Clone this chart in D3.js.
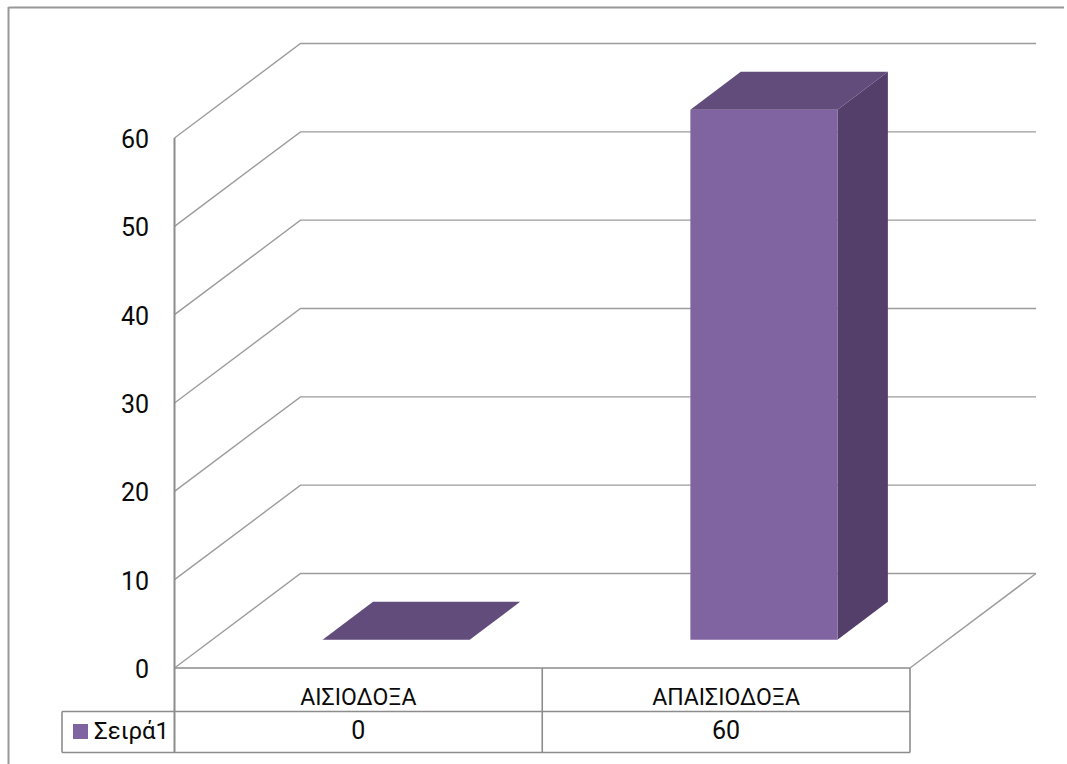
<!DOCTYPE html>
<html>
<head>
<meta charset="utf-8">
<script src="https://cdn.jsdelivr.net/npm/d3@7"></script>
<style>
html,body{margin:0;padding:0;background:#fff;}
svg{display:block;}
text{font-family:Roboto,"Noto Sans",sans-serif;fill:#0a0a0a;}
</style>
</head>
<body>
<svg id="chart" width="1067" height="764"></svg>
<script>
const categories = ["ΑΙΣΙΟΔΟΞΑ", "ΑΠΑΙΣΙΟΔΟΞΑ"];
const seriesName = "Σειρά1";
const seriesValues = [0, 60];
const axisTicks = [0, 10, 20, 30, 40, 50, 60];

const svg = d3.select("#chart");

// Front plane of the 3D plot box, and the offset of its back plane.
const x = d3.scaleBand().domain(categories).range([174.5, 910]);
const y = d3.scaleLinear().domain([0, 60]).range([668, 138]);
const depthX = 126, depthY = -94.5;

// Project a point of the plot box: u across, v up, t into the depth (0 to 1).
const project = (u, v, t) => [u + depthX * t, y(v) + depthY * t];
const path = pts => d3.line()(pts) + "Z";

const gridColor = "#9c9c9c", tableColor = "#8c8c8c";

const line = (x1, y1, x2, y2, color, width) => svg.append("line")
  .attr("x1", x1).attr("y1", y1).attr("x2", x2).attr("y2", y2)
  .attr("stroke", color).attr("stroke-width", width);

// Chart area frame: only the top and left edges are drawn.
line(8.5, 7.5, 1064, 7.5, "#989898", 2);
line(8.5, 7, 8.5, 764, "#989898", 2);

// Gridlines run along the side wall and then along the back wall.
const x0 = x.range()[0], x1 = x.range()[1];
svg.append("g").selectAll("path").data(axisTicks).join("path")
  .attr("d", v => d3.line()([[x0, y(v)], project(x0, v, 1), project(x1, v, 1)]))
  .attr("fill", "none").attr("stroke", gridColor).attr("stroke-width", 1.4);

// Floor edges on the right and along the front.
const floorBackRight = project(x1, 0, 1);
line(floorBackRight[0], floorBackRight[1], x1, y(0), gridColor, 1.4);
line(x0, y(0), x1, y(0), "#a8a8a8", 2);

// Bars, each one a front, top and right face.
const barFront = 0.30, barBack = 0.70, barPad = 0.3;
const bars = svg.append("g").selectAll("g").data(categories).join("g");
bars.each(function (c, i) {
  const g = d3.select(this);
  const v = seriesValues[i];
  const l = x(c) + x.bandwidth() * barPad;
  const r = x(c) + x.bandwidth() * (1 - barPad);
  const P = (u, val, t) => project(u, val, t);
  if (v > 0) {
    g.append("path").attr("fill", "#533f69")
      .attr("d", path([P(r, 0, barFront), P(r, 0, barBack), P(r, v, barBack), P(r, v, barFront)]));
    g.append("path").attr("fill", "#8063a1")
      .attr("d", path([P(l, 0, barFront), P(r, 0, barFront), P(r, v, barFront), P(l, v, barFront)]));
  }
  g.append("path").attr("fill", "#614c7b")
    .attr("d", path([P(l, v, barFront), P(r, v, barFront), P(r, v, barBack), P(l, v, barBack)]));
});

// Value axis labels.
svg.append("g").selectAll("text").data(axisTicks).join("text")
  .attr("x", 149).attr("y", v => y(v) + 10)
  .attr("text-anchor", "end").attr("font-size", 25).text(d => d);

// Data table below the plot.
const rowTop = 711.5, rowBottom = 752.5, legendLeft = 62;
line(x0, y(60), x0, rowBottom, tableColor, 2);
line(legendLeft, rowTop, x1, rowTop, tableColor, 1.6);
line(legendLeft, rowBottom, x1, rowBottom, tableColor, 1.6);
line(legendLeft, rowTop, legendLeft, rowBottom, tableColor, 1.6);
line(x(categories[1]), y(0), x(categories[1]), rowBottom, tableColor, 1.6);
line(x1, y(0), x1, rowBottom, tableColor, 1.6);

svg.append("g").selectAll("text").data(categories).join("text")
  .attr("x", c => x(c) + x.bandwidth() / 2).attr("y", 705)
  .attr("text-anchor", "middle").attr("font-size", 23).text(c => c);

svg.append("g").selectAll("text").data(seriesValues).join("text")
  .attr("x", (v, i) => x(categories[i]) + x.bandwidth() / 2).attr("y", 739)
  .attr("text-anchor", "middle").attr("font-size", 25).text(d => d);

// Legend key and series name in the first table column.
svg.append("rect").attr("x", 73).attr("y", 724).attr("width", 15).attr("height", 15).attr("fill", "#8063a1");
svg.append("text").attr("x", 94).attr("y", 739).attr("font-size", 24).text(seriesName);
</script>
</body>
</html>
